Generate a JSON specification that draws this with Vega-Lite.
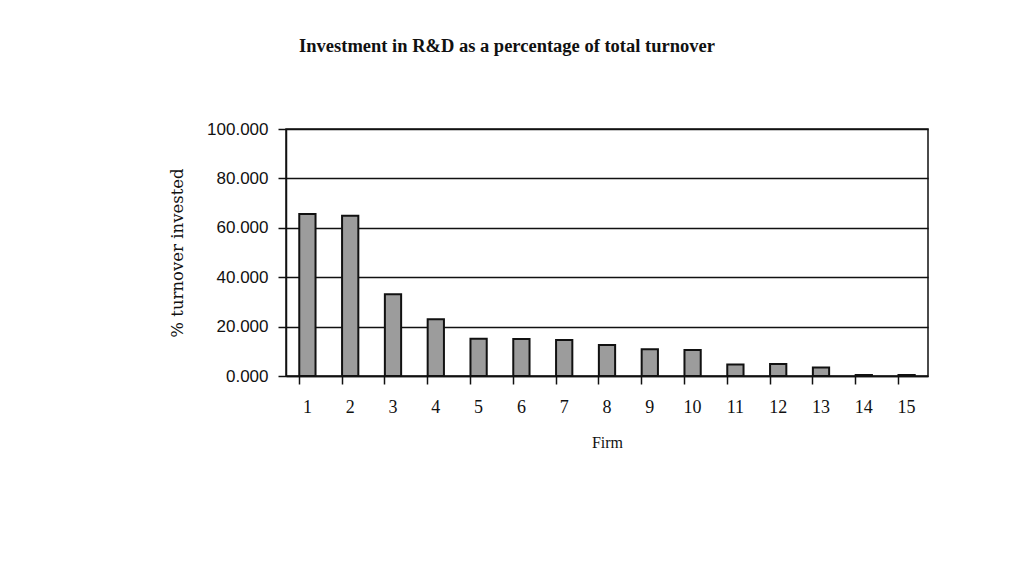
{
  "$schema": "https://vega.github.io/schema/vega-lite/v6.json",
  "width": 642,
  "height": 247,
  "autosize": {"type": "none"},
  "padding": {"left": 286, "top": 129, "right": 83, "bottom": 210},
  "background": "white",
  "title": {
    "text": "Investment in R&D as a percentage of total turnover",
    "font": "Liberation Serif",
    "fontSize": 18.5,
    "fontWeight": "bold",
    "color": "#111111",
    "anchor": "middle",
    "dx": -100,
    "offset": 65
  },
  "data": {
    "values": [
      {"firm": 1, "pct": 65.6},
      {"firm": 2, "pct": 64.9},
      {"firm": 3, "pct": 33.1},
      {"firm": 4, "pct": 23.0},
      {"firm": 5, "pct": 15.1},
      {"firm": 6, "pct": 15.0},
      {"firm": 7, "pct": 14.6},
      {"firm": 8, "pct": 12.6},
      {"firm": 9, "pct": 10.8},
      {"firm": 10, "pct": 10.5},
      {"firm": 11, "pct": 4.7},
      {"firm": 12, "pct": 4.9},
      {"firm": 13, "pct": 3.4},
      {"firm": 14, "pct": 0.4},
      {"firm": 15, "pct": 0.4}
    ]
  },
  "mark": {"type": "bar", "fill": "#9c9c9c", "stroke": "#111111", "strokeWidth": 2},
  "encoding": {
    "x": {
      "field": "firm",
      "type": "ordinal",
      "scale": {"paddingInner": 0.62, "paddingOuter": 0.31},
      "axis": {
        "title": "Firm",
        "titleFont": "Liberation Serif",
        "titleFontSize": 16,
        "titleFontWeight": "normal",
        "titleColor": "#111111",
        "titlePadding": 18,
        "labelFont": "Liberation Serif",
        "labelFontSize": 18,
        "labelColor": "#111111",
        "labelAngle": 0,
        "labelPadding": 14,
        "bandPosition": 0,
        "tickSize": 8,
        "tickColor": "#111111",
        "tickWidth": 1.5,
        "domainColor": "#111111",
        "domainWidth": 1.5
      }
    },
    "y": {
      "field": "pct",
      "type": "quantitative",
      "scale": {"domain": [0, 100], "nice": false},
      "axis": {
        "title": "% turnover invested",
        "titleFont": "DejaVu Serif",
        "titleFontSize": 16.5,
        "titleFontWeight": "normal",
        "titleColor": "#111111",
        "titlePadding": 21,
        "values": [0, 20, 40, 60, 80, 100],
        "format": ".3f",
        "labelFont": "Liberation Sans",
        "labelFontSize": 17,
        "labelColor": "#111111",
        "labelPadding": 10,
        "tickSize": 8,
        "tickColor": "#111111",
        "tickWidth": 1.5,
        "domainColor": "#111111",
        "domainWidth": 1.5,
        "grid": true,
        "gridColor": "#111111",
        "gridWidth": 1.5
      }
    }
  },
  "config": {
    "view": {"stroke": "#111111", "strokeWidth": 1.5}
  }
}
